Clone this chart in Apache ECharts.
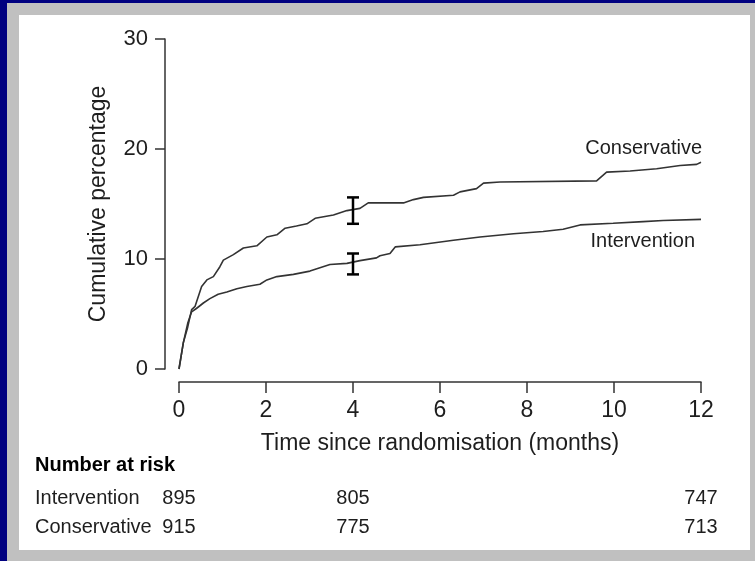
<!DOCTYPE html>
<html>
<head>
<meta charset="utf-8">
<script src="https://cdn.jsdelivr.net/npm/echarts@6/dist/echarts.min.js"></script>
<style>
  html, body { margin: 0; padding: 0; }
  #frame { position: relative; width: 755px; height: 561px; background: #000080; overflow: hidden; }
  #gray { position: absolute; left: 7px; top: 3px; width: 748px; height: 558px; background: #c0c0c0; }
  #white { position: absolute; left: 19px; top: 15px; width: 731px; height: 535px; background: #ffffff; }
  #chart { position: absolute; left: 0; top: 0; width: 755px; height: 561px; }
</style>
</head>
<body>
<div id="frame">
  <div id="gray"></div>
  <div id="white"></div>
  <div id="chart"></div>
</div>
<script>
// ---- data ----
const xTicks = [0, 2, 4, 6, 8, 10, 12];
const yTicks = [0, 10, 20, 30];
const conservative = [
  [0, 0], [0.1, 2.4], [0.2, 3.8], [0.29, 5.4], [0.37, 5.7], [0.52, 7.5], [0.64, 8.1],
  [0.79, 8.4], [0.94, 9.3], [1.02, 9.9], [1.25, 10.4], [1.48, 11.0], [1.79, 11.2],
  [2.02, 12.0], [2.25, 12.2], [2.44, 12.8], [2.7, 13.0], [2.94, 13.2], [3.13, 13.7],
  [3.55, 14.0], [3.86, 14.4], [4.16, 14.6], [4.35, 15.1], [5.16, 15.1], [5.39, 15.4],
  [5.62, 15.6], [6.31, 15.8], [6.46, 16.1], [6.84, 16.4], [7.0, 16.9], [7.38, 17.0],
  [9.6, 17.1], [9.83, 17.9], [10.37, 18.0], [10.98, 18.2], [11.52, 18.5], [11.9, 18.6],
  [12, 18.8]
];
const intervention = [
  [0, 0], [0.1, 2.4], [0.2, 4.15], [0.29, 5.2], [0.4, 5.5], [0.56, 6.0], [0.71, 6.4],
  [0.9, 6.8], [1.1, 7.0], [1.33, 7.3], [1.56, 7.5], [1.86, 7.7], [2.02, 8.1],
  [2.25, 8.4], [2.63, 8.6], [3.01, 8.9], [3.47, 9.5], [3.86, 9.6], [4.16, 9.85],
  [4.54, 10.1], [4.62, 10.3], [4.85, 10.5], [4.97, 11.1], [5.54, 11.3], [6.31, 11.7],
  [6.92, 12.0], [7.69, 12.3], [8.37, 12.5], [8.83, 12.7], [9.22, 13.1], [9.98, 13.25],
  [10.67, 13.4], [11.13, 13.5], [12, 13.6]
];
// [month, low, high]
const errorBars = [[4, 13.2, 15.6], [4, 8.6, 10.5]];
const riskGroups = ['Conservative', 'Intervention'];
const riskMonths = [0, 4, 12];
const riskIntervention = [895, 805, 747];
const riskConservative = [915, 775, 713];

// ---- chart ----
const FONT = '"Liberation Sans", Arial, sans-serif';
const TXT = '#1e1e1e';
const LINE = '#333333';

const riskData = [];
riskMonths.forEach((m, i) => {
  riskData.push([m, 'Intervention', riskIntervention[i]]);
  riskData.push([m, 'Conservative', riskConservative[i]]);
});

const chart = echarts.init(document.getElementById('chart'), null, { renderer: 'canvas' });
chart.setOption({
  backgroundColor: 'transparent',
  animation: false,
  textStyle: { fontFamily: FONT },
  grid: [
    { left: 179, right: 54, top: 39, bottom: 192 },
    { left: 179, right: 54, top: 498, height: 29 }
  ],
  xAxis: [
    {
      type: 'value', gridIndex: 0, min: xTicks[0], max: xTicks[xTicks.length - 1], interval: 2,
      offset: 13,
      axisLine: { show: true, onZero: false, lineStyle: { color: LINE, width: 1.5 } },
      axisTick: { show: true, length: 11, lineStyle: { color: LINE, width: 1.5 } },
      splitLine: { show: false },
      axisLabel: { fontSize: 23, color: TXT, margin: 17, fontFamily: FONT },
      name: 'Time since randomisation (months)', nameLocation: 'middle', nameGap: 50,
      nameTextStyle: { fontSize: 23, color: TXT, fontFamily: FONT }
    },
    {
      type: 'value', gridIndex: 1, min: 0, max: 12, show: false
    }
  ],
  yAxis: [
    {
      type: 'value', gridIndex: 0, min: yTicks[0], max: yTicks[yTicks.length - 1], interval: 10,
      offset: 14,
      axisLine: { show: true, onZero: false, lineStyle: { color: LINE, width: 1.5 } },
      axisTick: { show: true, length: 10, lineStyle: { color: LINE, width: 1.5 } },
      splitLine: { show: false },
      axisLabel: { fontSize: 22, color: TXT, margin: 17, fontFamily: FONT },
      name: 'Cumulative percentage', nameLocation: 'middle', nameGap: 55, nameRotate: 90,
      nameTextStyle: { fontSize: 23, color: TXT, fontFamily: FONT }
    },
    {
      type: 'category', gridIndex: 1, data: riskGroups, boundaryGap: false,
      axisLine: { show: false }, axisTick: { show: false }, splitLine: { show: false },
      axisLabel: { align: 'left', margin: 144, fontSize: 20, color: TXT, fontFamily: FONT }
    }
  ],
  series: [
    {
      name: 'Conservative', type: 'line', xAxisIndex: 0, yAxisIndex: 0,
      data: conservative, showSymbol: false, symbol: 'none',
      lineStyle: { color: LINE, width: 1.6 }, z: 3
    },
    {
      name: 'Intervention', type: 'line', xAxisIndex: 0, yAxisIndex: 0,
      data: intervention, showSymbol: false, symbol: 'none',
      lineStyle: { color: LINE, width: 1.6 }, z: 3
    },
    {
      type: 'custom', xAxisIndex: 0, yAxisIndex: 0, data: errorBars, z: 4,
      renderItem: function (params, api) {
        const x = api.value(0);
        const lo = api.coord([x, api.value(1)]);
        const hi = api.coord([x, api.value(2)]);
        const hw = 6;
        const style = { stroke: '#000', lineWidth: 2.5 };
        return {
          type: 'group',
          children: [
            { type: 'line', shape: { x1: lo[0], y1: lo[1], x2: hi[0], y2: hi[1] }, style: style },
            { type: 'line', shape: { x1: lo[0] - hw, y1: lo[1], x2: lo[0] + hw, y2: lo[1] }, style: style },
            { type: 'line', shape: { x1: hi[0] - hw, y1: hi[1], x2: hi[0] + hw, y2: hi[1] }, style: style }
          ]
        };
      }
    },
    {
      type: 'scatter', xAxisIndex: 1, yAxisIndex: 1, data: riskData,
      symbolSize: 0, itemStyle: { opacity: 1 },
      label: {
        show: true, position: 'inside', fontSize: 20, color: TXT, opacity: 1, fontFamily: FONT,
        formatter: function (p) { return String(p.value[2]); }
      }
    }
  ],
  graphic: [
    {
      type: 'text', left: 35, top: 455,
      style: { text: 'Number at risk', fontSize: 20, fontWeight: 'bold', fill: '#000', fontFamily: FONT }
    },
    {
      type: 'text', right: 53, top: 138,
      style: { text: 'Conservative', fontSize: 20, fill: TXT, fontFamily: FONT }
    },
    {
      type: 'text', right: 60, top: 231,
      style: { text: 'Intervention', fontSize: 20, fill: TXT, fontFamily: FONT }
    }
  ]
});
</script>
</body>
</html>
